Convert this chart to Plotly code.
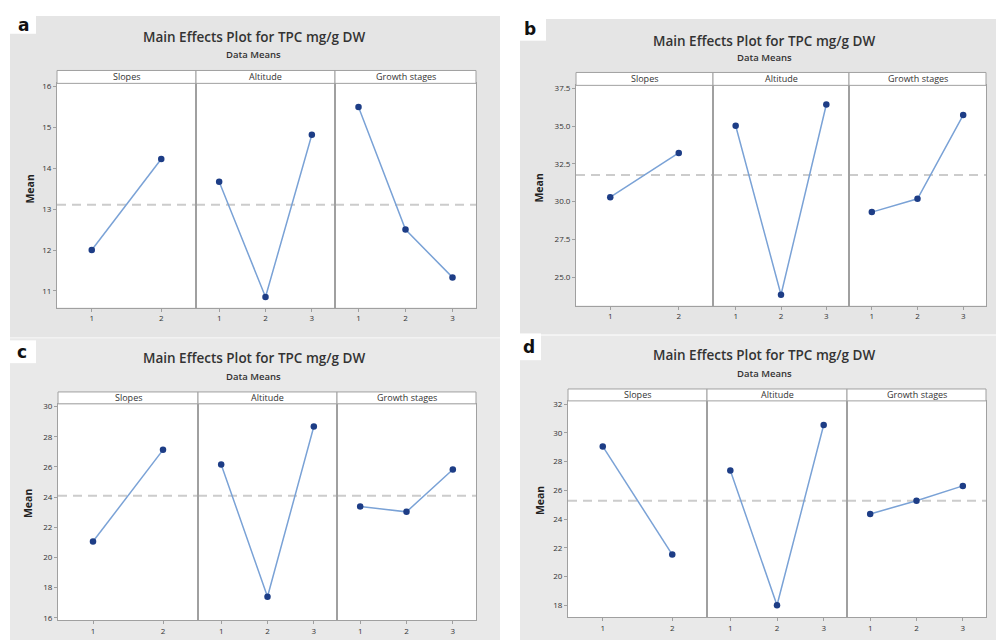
import plotly.graph_objects as go

W, H = 997, 642

# ---------------- data ----------------
panel_letters = ["a", "b", "c", "d"]
title_text = "Main Effects Plot for TPC mg/g DW"
subtitle_text = "Data Means"
factors = ["Slopes", "Altitude", "Growth stages"]
levels = [[1, 2], [1, 2, 3], [1, 2, 3]]

a_slopes = [12.00, 14.23]
a_altitude = [13.67, 10.85, 14.82]
a_growth = [15.50, 12.50, 11.33]
a_mean = 13.11

b_slopes = [30.30, 33.23]
b_altitude = [35.03, 23.84, 36.43]
b_growth = [29.31, 30.19, 35.73]
b_mean = 31.77

c_slopes = [21.05, 27.13]
c_altitude = [26.16, 17.39, 28.68]
c_growth = [23.38, 23.02, 25.83]
c_mean = 24.08

d_slopes = [29.06, 21.53]
d_altitude = [27.39, 18.00, 30.55]
d_growth = [24.36, 25.27, 26.31]
d_mean = 25.28

a_yticks = [11, 12, 13, 14, 15, 16]
b_yticks = [25.0, 27.5, 30.0, 32.5, 35.0, 37.5]
c_yticks = [16, 18, 20, 22, 24, 26, 28, 30]
d_yticks = [18, 20, 22, 24, 26, 28, 30, 32]

panel_values = [
    [a_slopes, a_altitude, a_growth],
    [b_slopes, b_altitude, b_growth],
    [c_slopes, c_altitude, c_growth],
    [d_slopes, d_altitude, d_growth],
]
panel_means = [a_mean, b_mean, c_mean, d_mean]
panel_yticks = [a_yticks, b_yticks, c_yticks, d_yticks]
panel_tickfmt = [".0f", ".1f", ".0f", ".0f"]

# ---------------- layout geometry (pixels) ----------------
geo = [
    dict(L=57, R=476, ST=68, SB=81, PB=307, D1=196, D2=335, yr=[10.59, 16.08],
         bg=(10, 13, 500, 337), lab=(0, 0, 36, 31), labc=(23, 22),
         tx=254, ty=34, sy=52, mx=30, my=188),
    dict(L=576, R=986, ST=70, SB=83, PB=305, D1=713, D2=849, yr=[23.12, 37.70],
         bg=(520, 16, 996, 334), lab=(518, 14, 546, 38), labc=(530, 26),
         tx=764, ty=38, sy=55, mx=539, my=187),
    dict(L=58, R=476, ST=392, SB=404, PB=622, D1=198, D2=337, yr=[15.84, 30.18],
         bg=(10, 338, 500, 642), lab=(8, 340, 36, 363), labc=(22, 352),
         tx=254, ty=358, sy=376, mx=28, my=505),
    dict(L=568, R=986, ST=389, SB=401, PB=619, D1=707, D2=847, yr=[17.17, 32.23],
         bg=(520, 335, 996, 642), lab=(518, 333, 541, 360), labc=(529, 347),
         tx=764, ty=355, sy=373, mx=540, my=502),
]

def px(x):
    return x / W

def py(y):
    return 1 - y / H

fig = go.Figure()
shapes = []
annotations = []

FONT = "Open Sans"
LINE_C = "#7aa2d6"
MARK_C = "#1d3d86"
AXIS_C = "#a0a0a0"

for p, g in enumerate(geo):
    x0, y0, x1, y1 = g["bg"]
    shapes.append(dict(type="rect", xref="paper", yref="paper", layer="below",
                       x0=px(x0), x1=px(x1), y0=py(y1), y1=py(y0),
                       fillcolor="#e5e5e5" if p < 2 else "#e9e9e9", line=dict(width=0)))
    lx0, ly0, lx1, ly1 = g["lab"]
    shapes.append(dict(type="rect", xref="paper", yref="paper", layer="below",
                       x0=px(lx0), x1=px(lx1), y0=py(ly1), y1=py(ly0),
                       fillcolor="white", line=dict(width=0)))
    shapes.append(dict(type="rect", xref="paper", yref="paper", layer="below",
                       x0=px(g["L"]), x1=px(g["R"]), y0=py(g["PB"]), y1=py(g["SB"]),
                       fillcolor="white", line=dict(width=0)))

for p, g in enumerate(geo):
    bounds = [g["L"], g["D1"], g["D2"], g["R"]]
    for k in range(3):
        n = p * 3 + k + 1
        xa = "xaxis" if n == 1 else f"xaxis{n}"
        ya = "yaxis" if n == 1 else f"yaxis{n}"
        xr = "x" if n == 1 else f"x{n}"
        yr = "y" if n == 1 else f"y{n}"
        lv = levels[k]
        vals = panel_values[p][k]
        fig.add_trace(go.Scatter(
            x=lv, y=vals, xaxis=xr, yaxis=yr, mode="lines+markers",
            line=dict(color=LINE_C, width=1.5),
            marker=dict(color=MARK_C, size=6.5),
            showlegend=False, hoverinfo="x+y"))
        shapes.append(dict(type="line", xref=f"{xr} domain", yref=yr,
                           x0=0, x1=1, y0=panel_means[p], y1=panel_means[p],
                           layer="below",
                           line=dict(color="#cccccc", width=2, dash="9px,6px")))
        fig.layout[xa] = dict(
            domain=[px(bounds[k]), px(bounds[k + 1])],
            anchor=yr, range=[0.5, len(lv) + 0.5],
            tickvals=lv, ticktext=[str(v) for v in lv],
            ticks="outside", ticklen=3, tickcolor=AXIS_C,
            showgrid=False, zeroline=False,
            showline=True, mirror=True, linecolor=AXIS_C, linewidth=1,
            tickfont=dict(family=FONT, size=8, color="#333"),
            fixedrange=True)
        yd = dict(
            domain=[py(g["PB"]), py(g["SB"])],
            anchor=xr, range=g["yr"],
            showgrid=False, zeroline=False,
            showline=True, mirror=True, linecolor=AXIS_C, linewidth=1,
            fixedrange=True)
        if k == 0:
            yd.update(tickvals=panel_yticks[p], tickformat=panel_tickfmt[p],
                      ticks="outside", ticklen=3, tickcolor=AXIS_C,
                      tickfont=dict(family=FONT, size=8, color="#333"))
        else:
            yd.update(showticklabels=False, ticks="",
                      matches="y" if p == 0 else f"y{p * 3 + 1}")
        fig.layout[ya] = yd
        shapes.append(dict(type="rect", xref="paper", yref="paper",
                           x0=px(bounds[k]), x1=px(bounds[k + 1]),
                           y0=py(g["SB"]), y1=py(g["ST"]),
                           fillcolor="white", line=dict(color=AXIS_C, width=1)))
        annotations.append(dict(xref="paper", yref="paper",
                                x=px((bounds[k] + bounds[k + 1]) / 2),
                                y=py((g["ST"] + g["SB"]) / 2),
                                text=factors[k], showarrow=False,
                                xanchor="center", yanchor="middle",
                                font=dict(family=FONT, size=9, color="#333")))
    annotations.append(dict(xref="paper", yref="paper", x=px(g["tx"]), y=py(g["ty"]),
                            text=title_text, showarrow=False, xanchor="center",
                            yanchor="middle",
                            font=dict(family=FONT, size=13.5, color="#333", weight=600)))
    annotations.append(dict(xref="paper", yref="paper", x=px(g["tx"]), y=py(g["sy"]),
                            text=subtitle_text, showarrow=False, xanchor="center",
                            yanchor="middle",
                            font=dict(family=FONT, size=9.5, color="#333", weight=600)))
    annotations.append(dict(xref="paper", yref="paper", x=px(g["mx"]), y=py(g["my"]),
                            text="Mean", showarrow=False, textangle=-90,
                            xanchor="center", yanchor="middle",
                            font=dict(family=FONT, size=10.5, color="#222", weight=700)))
    annotations.append(dict(xref="paper", yref="paper", x=px(g["labc"][0]),
                            y=py(g["labc"][1]), text=panel_letters[p], showarrow=False,
                            xanchor="center", yanchor="middle",
                            font=dict(family="DejaVu Sans", size=17, color="#111",
                                      weight=700)))

fig.update_layout(
    width=W, height=H, autosize=False,
    margin=dict(l=0, r=0, t=0, b=0),
    paper_bgcolor="white", plot_bgcolor="white",
    shapes=shapes, annotations=annotations,
)

fig.write_html("out.html",
               config={"displayModeBar": False},
               post_script="document.body.style.margin='0';"
                           "document.body.style.overflow='hidden';")
